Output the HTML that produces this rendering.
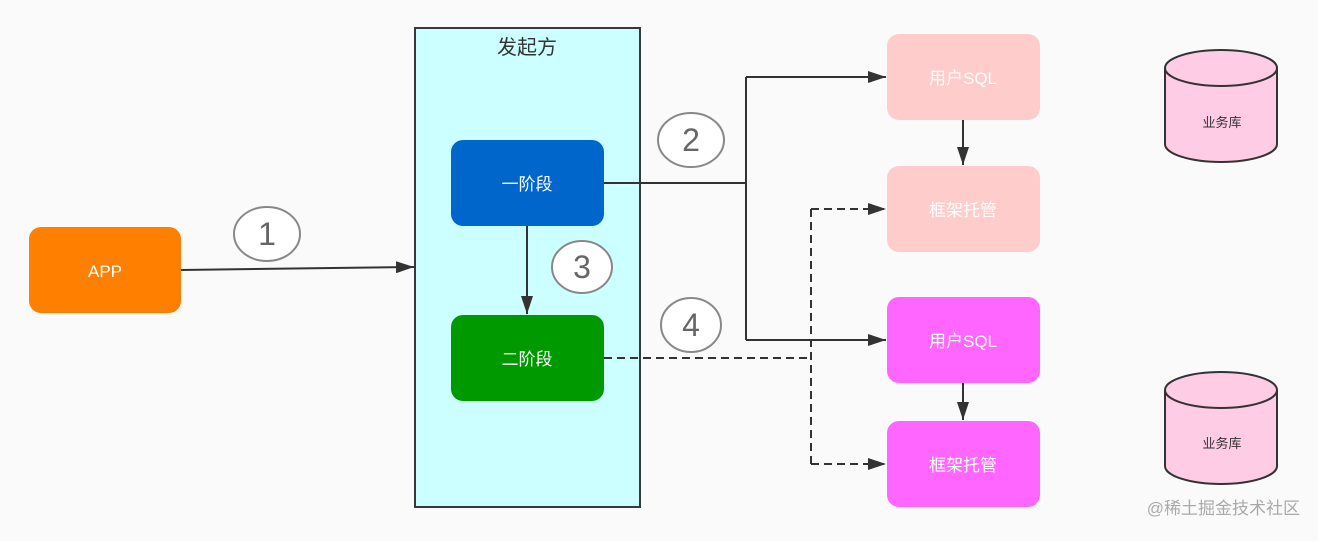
<!DOCTYPE html>
<html><head><meta charset="utf-8"><style>
body{margin:0;background:#fafafa;}
svg text{font-family:"Liberation Sans","Noto Sans CJK SC",sans-serif;}
</style></head><body>
<svg width="1318" height="536" viewBox="0 0 1318 536" xmlns="http://www.w3.org/2000/svg">
<defs>
<marker id="b" viewBox="0 0 18 12" markerWidth="18" markerHeight="12" refX="18" refY="6" orient="auto" markerUnits="userSpaceOnUse"><path d="M0,0 L18,6 L0,12 z" fill="#333"/></marker></defs>
<rect width="1318" height="536" fill="#fafafa"/>
<rect x="415" y="28" width="225" height="479" fill="#ccffff" stroke="#36393d" stroke-width="2"/>
<text x="527" y="54" font-size="20" text-anchor="middle" fill="#333">发起方</text>
<rect x="29" y="227" width="152" height="86" rx="12" fill="#ff8000"/>
<text x="105" y="277" font-size="17" text-anchor="middle" fill="#fff">APP</text>
<rect x="451" y="140" width="153" height="86" rx="12" fill="#0066cc"/>
<text x="527" y="190" font-size="17" text-anchor="middle" fill="#fff">一阶段</text>
<rect x="451" y="315" width="153" height="86" rx="12" fill="#009900"/>
<text x="527" y="365" font-size="17" text-anchor="middle" fill="#fff">二阶段</text>
<rect x="887" y="34" width="153" height="86" rx="12" fill="#ffcccc"/>
<text x="963" y="84" font-size="17" text-anchor="middle" fill="#fff">用户SQL</text>
<rect x="887" y="166" width="153" height="86" rx="12" fill="#ffcccc"/>
<text x="963" y="216" font-size="17" text-anchor="middle" fill="#fff">框架托管</text>
<rect x="887" y="297" width="153" height="86" rx="12" fill="#ff66ff"/>
<text x="963" y="347" font-size="17" text-anchor="middle" fill="#fff">用户SQL</text>
<rect x="887" y="421" width="153" height="86" rx="12" fill="#ff66ff"/>
<text x="963" y="471" font-size="17" text-anchor="middle" fill="#fff">框架托管</text>
<g stroke="#333" stroke-width="2" fill="none">
<path d="M181,270 L414,267" marker-end="url(#b)"/>
<path d="M527,226 L527,314" marker-end="url(#b)"/>
<path d="M604,183 L746,183"/>
<path d="M746,77 L746,340"/>
<path d="M746,77 L886,77" marker-end="url(#b)"/>
<path d="M746,340 L886,340" marker-end="url(#b)"/>
<path d="M963,120 L963,165" marker-end="url(#b)"/>
<path d="M963,383 L963,420" marker-end="url(#b)"/>
<g stroke-dasharray="8,5">
<path d="M604,358 L811,358"/>
<path d="M811,209 L811,464"/>
<path d="M811,209 L886,209" marker-end="url(#b)"/>
<path d="M811,464 L886,464" marker-end="url(#b)"/>
</g></g>
<g fill="#fff" stroke="#888" stroke-width="2">
<ellipse cx="267" cy="234" rx="33" ry="27"/>
<ellipse cx="691" cy="140" rx="33" ry="27"/>
<ellipse cx="582" cy="267" rx="30" ry="26"/>
<ellipse cx="691" cy="325" rx="30" ry="27"/>
</g>
<g font-size="32" fill="#666" text-anchor="middle">
<text x="267" y="245">1</text><text x="691" y="151">2</text><text x="582" y="278">3</text><text x="691" y="336">4</text>
</g>
<g fill="#ffcce6" stroke="#333" stroke-width="2">
<path d="M1165,68 L1165,144 A56,18 0 0 0 1277,144 L1277,68"/>
<ellipse cx="1221" cy="68" rx="56" ry="18"/>
<path d="M1165,390 L1165,466 A56,18 0 0 0 1277,466 L1277,390"/>
<ellipse cx="1221" cy="390" rx="56" ry="18"/>
</g>
<text x="1222" y="127" font-size="13" text-anchor="middle" fill="#333">业务库</text>
<text x="1222" y="448" font-size="13" text-anchor="middle" fill="#333">业务库</text>
<text x="1300" y="514" font-size="17" text-anchor="end" fill="#aaa">@稀土掘金技术社区</text>
</svg>
</body></html>
